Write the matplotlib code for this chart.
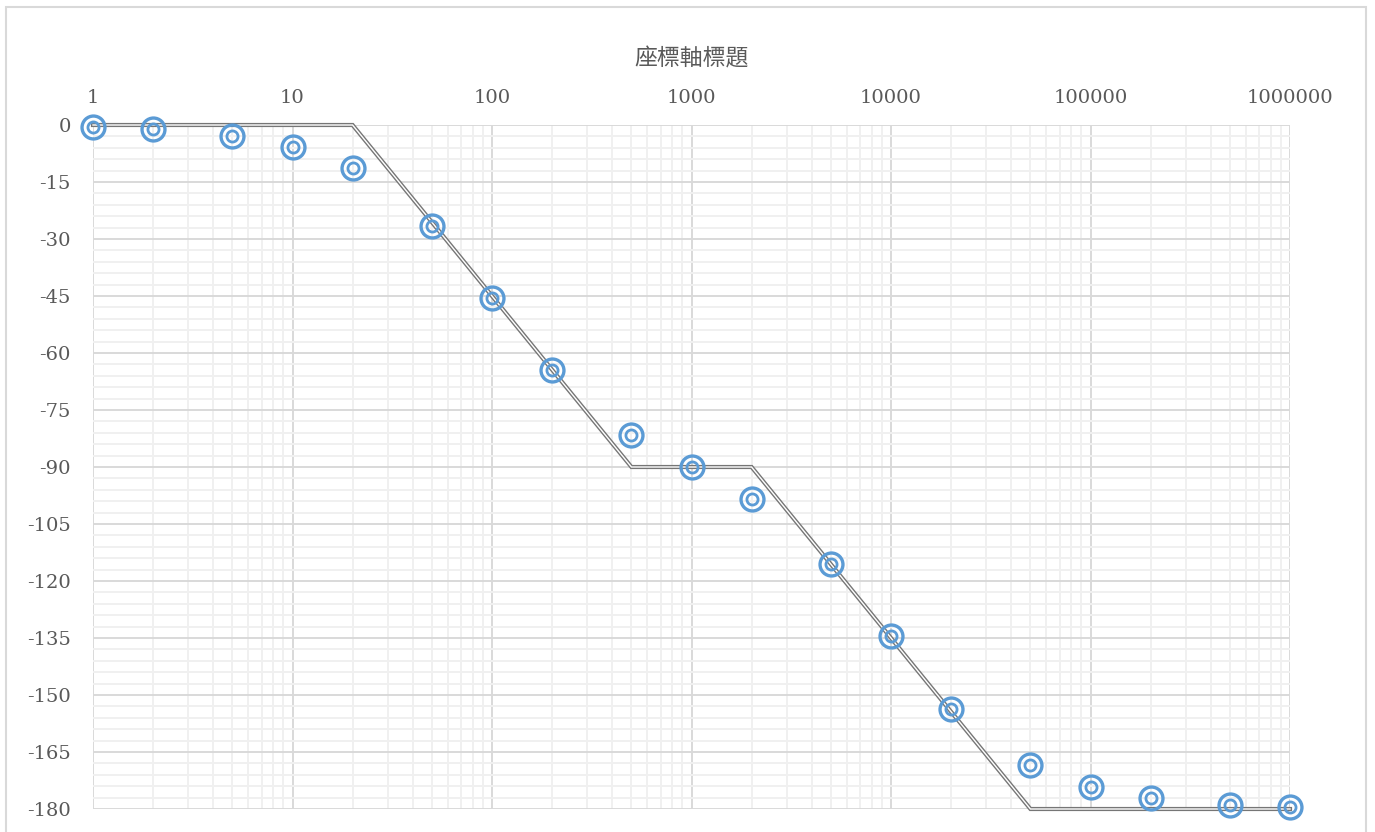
import matplotlib
matplotlib.use("Agg")
import matplotlib.pyplot as plt
from matplotlib.patches import Rectangle
from matplotlib.ticker import FixedLocator, NullFormatter, LogLocator

# Frequency points (log scale)
freq = [1, 2, 5, 10, 20, 50, 100, 200, 500, 1000, 2000, 5000,
        10000, 20000, 50000, 100000, 200000, 500000, 1000000]
# Measured phase (degrees)
phase = [-0.6, -1.1, -2.9, -5.7, -11.3, -26.6, -45.6, -64.6, -81.6, -90.0,
         -98.4, -115.4, -134.4, -153.7, -168.5, -174.3, -177.1, -178.9, -179.4]
# Straight-line approximation (degrees)
asymptote = [0, 0, 0, 0, 0, -25.6, -45, -64.4, -90, -90, -90, -115.6,
             -135, -154.4, -180, -180, -180, -180, -180]

x_ticks = [1, 10, 100, 1000, 10000, 100000, 1000000]
x_tick_labels = ["1", "10", "100", "1000", "10000", "100000", "1000000"]
y_ticks = [0, -15, -30, -45, -60, -75, -90, -105, -120, -135, -150, -165, -180]
y_tick_labels = ["0", "-15", "-30", "-45", "-60", "-75", "-90", "-105",
                 "-120", "-135", "-150", "-165", "-180"]
axis_title = "座標軸標題"

W, H = 1375, 832
fig = plt.figure(figsize=(W / 100, H / 100), dpi=100)
fig.patch.set_facecolor("white")

ax = fig.add_axes([93 / W, 1 - 809 / H, (1290 - 93) / W, (809 - 125) / H])
ax.set_xscale("log")
ax.set_xlim(1, 1000000)
ax.set_ylim(-180, 0)

# grid
ax.xaxis.set_major_locator(FixedLocator(x_ticks))
ax.xaxis.set_minor_locator(LogLocator(base=10, subs=range(2, 10), numticks=20))
ax.xaxis.set_minor_formatter(NullFormatter())
ax.set_xticklabels(x_tick_labels)
ax.set_yticks(y_ticks)
ax.set_yticklabels(y_tick_labels)
ax.set_yticks([v for v in range(-180, 1, 3) if v % 15 != 0], minor=True)
ax.grid(which="major", color="#d9d9d9", linewidth=1.4, zorder=0)
ax.grid(which="minor", color="#f0f0f0", linewidth=1.4, zorder=0)
ax.set_axisbelow(True)
for s in ax.spines.values():
    s.set_visible(False)

serif = ["DejaVu Serif"]
ax.xaxis.tick_top()
ax.tick_params(axis="both", which="both", length=0, colors="#595959")
ax.tick_params(axis="x", pad=13, labelsize=14)
ax.tick_params(axis="y", pad=16, labelsize=14)
for lab in ax.get_xticklabels() + ax.get_yticklabels():
    lab.set_fontfamily(serif)

ax.xaxis.set_label_position("top")
ax.set_xlabel(axis_title, fontsize=16.5, color="#595959", labelpad=17,
              fontfamily=["Noto Sans CJK TC", "DejaVu Sans"])

# double gray line for the asymptote
ax.plot(freq, asymptote, color="#767676", linewidth=3.0, zorder=3,
        solid_joinstyle="miter", clip_on=False)
ax.plot(freq, asymptote, color="white", linewidth=1.0, zorder=3.1,
        solid_joinstyle="miter", clip_on=False)

# double-ring markers for the measured phase
ax.plot(freq, phase, linestyle="none", marker="o", markersize=16.5,
        markerfacecolor="none", markeredgecolor="#5b9bd5",
        markeredgewidth=2.4, zorder=4, clip_on=False)
ax.plot(freq, phase, linestyle="none", marker="o", markersize=8,
        markerfacecolor="none", markeredgecolor="#5b9bd5",
        markeredgewidth=2.0, zorder=4, clip_on=False)

# chart frame
fig.patches.append(Rectangle((6 / W, -0.05), (1366 - 6) / W, 1 - 7 / H + 0.05,
                             transform=fig.transFigure, fill=False,
                             edgecolor="#d9d9d9", linewidth=1.5))

fig.savefig("out.png", dpi=100, facecolor="white")
